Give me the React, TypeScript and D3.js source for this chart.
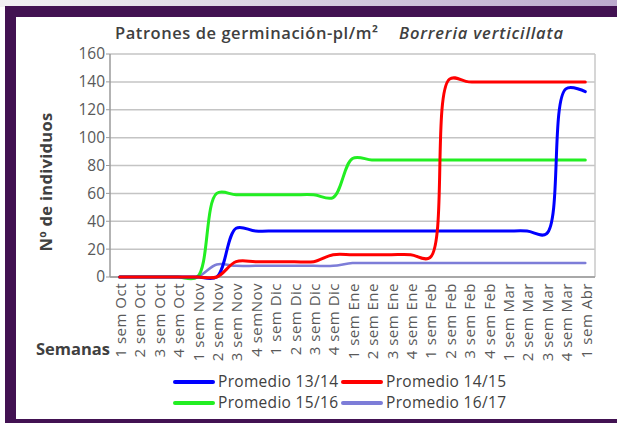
import React from "react";
import * as d3 from "d3";

const categories = [
  "1 sem Oct", "2 sem Oct", "3 sem Oct", "4 sem Oct",
  "1 sem Nov", "2 sem Nov", "3 sem Nov", "4 semNov",
  "1 sem Dic", "2 sem Dic", "3 sem Dic", "4 sem Dic",
  "1 sem Ene", "2 sem Ene", "3 sem Ene", "4 sem Ene",
  "1 sem Feb", "2 sem Feb", "3 sem Feb", "4 sem Feb",
  "1 sem Mar", "2 sem Mar", "3 sem Mar", "4 sem Mar",
  "1 sem Abr",
];

const prom1314 = [0, 0, 0, 0, 0, 0, 35, 33, 33, 33, 33, 33, 33, 33, 33, 33, 33, 33, 33, 33, 33, 33, 31, 135, 133];
const prom1415 = [0, 0, 0, 0, 0, 0, 11, 11, 11, 11, 11, 16, 16, 16, 16, 16, 14, 142, 140, 140, 140, 140, 140, 140, 140];
const prom1516 = [0, 0, 0, 0, 0, 60, 59, 59, 59, 59, 59, 57, 85, 84, 84, 84, 84, 84, 84, 84, 84, 84, 84, 84, 84];
const prom1617 = [0, 0, 0, 0, 0, 9, 8, 8, 8, 8, 8, 8, 10, 10, 10, 10, 10, 10, 10, 10, 10, 10, 10, 10, 10];

const yTicks = [0, 20, 40, 60, 80, 100, 120, 140, 160];

const seriesNames = ["Promedio 13/14", "Promedio 14/15", "Promedio 15/16", "Promedio 16/17"];
const seriesColors = ["#0000ff", "#ff0000", "#22ee22", "#7d7dd8"];

const W = 617;
const H = 423;
const left = 110;
const right = 595;
const top = 54;
const bottom = 277;
const font = "'Open Sans', 'Noto Sans', sans-serif";

export default function App() {
  const x = d3.scaleBand<string>().domain(categories).range([left, right]);
  const y = d3.scaleLinear().domain([0, 160]).range([bottom, top]);
  const cx = (i: number) => (x(categories[i]) as number) + x.bandwidth() / 2;
  const line = d3
    .line<number>()
    .x((_, i) => cx(i))
    .y((d) => y(d))
    .curve(d3.curveCatmullRom.alpha(0.5));

  const data = [prom1314, prom1415, prom1516, prom1617];
  const drawOrder = [3, 2, 0, 1];

  const legendItems = [
    { i: 0, lx: 175, ly: 382 },
    { i: 1, lx: 343, ly: 382 },
    { i: 2, lx: 175, ly: 403 },
    { i: 3, lx: 343, ly: 403 },
  ];

  return (
    <svg
      width={W}
      height={H}
      style={{ position: "absolute", left: 0, top: 0, display: "block" }}
      fontFamily={font}
    >
      <defs>
        <linearGradient id="topgrad" x1="0" x2="1" y1="0" y2="0">
          <stop offset="0" stopColor="#f2f1f3" />
          <stop offset="1" stopColor="#bcaace" />
        </linearGradient>
      </defs>
      <rect x={0} y={0} width={W} height={H} fill="#ffffff" />
      <rect x={0} y={0} width={W} height={7} fill="url(#topgrad)" />
      <rect x={5} y={6} width={W - 5} height={11} fill="#421252" />
      <rect x={5} y={6} width={11} height={H - 6} fill="#421252" />
      <rect x={5} y={419} width={W - 5} height={4} fill="#421252" />

      {/* title */}
      <text x={115} y={39} fontSize={16.5} fontWeight={600} fill="#404040" textLength={263} lengthAdjust="spacing">
        Patrones de germinación-pl/m²
      </text>
      <text x={399} y={39} fontSize={16.5} fontWeight={600} fontStyle="italic" fill="#404040" textLength={164} lengthAdjust="spacing">
        Borreria verticillata
      </text>

      {/* gridlines */}
      {yTicks.map((t) => (
        <line key={t} x1={left} x2={right} y1={y(t)} y2={y(t)} stroke="#c4c4c4" strokeWidth={1.5} />
      ))}
      <line x1={right} x2={right} y1={top} y2={bottom} stroke="#c8c8c8" strokeWidth={1.5} />
      <line x1={left} x2={left} y1={top} y2={bottom} stroke="#9a9a9a" strokeWidth={1.5} />
      <line x1={left} x2={right} y1={bottom} y2={bottom} stroke="#9a9a9a" strokeWidth={1.5} />
      {yTicks.map((t) => (
        <line key={"tk" + t} x1={left - 4} x2={left} y1={y(t)} y2={y(t)} stroke="#9a9a9a" strokeWidth={1} />
      ))}

      {/* y tick labels */}
      {yTicks.map((t) => (
        <text key={"l" + t} x={105} y={y(t)} dy="0.35em" textAnchor="end" fontSize={15.5} fill="#595959">
          {t}
        </text>
      ))}

      {/* y title */}
      <text
        transform={`translate(52,182) rotate(-90)`}
        textAnchor="middle"
        fontSize={16.5}
        fontWeight={700}
        fill="#404040"
        letterSpacing={0.3}
      >
        Nº de individuos
      </text>

      {/* x labels */}
      {categories.map((c, i) => (
        <text
          key={c}
          transform={`translate(${cx(i) + 1},283) rotate(-90)`}
          textAnchor="end"
          dy="0.35em"
          fontSize={15}
          letterSpacing={0.5}
          fill="#595959"
        >
          {c}
        </text>
      ))}

      <text x={36} y={355} fontSize={16.5} fontWeight={700} fill="#404040" textLength={74} lengthAdjust="spacing">
        Semanas
      </text>

      {/* series */}
      {drawOrder.map((i) => (
        <path
          key={seriesNames[i]}
          d={line(data[i]) || ""}
          fill="none"
          stroke={seriesColors[i]}
          strokeWidth={i === 3 ? 2.5 : 3}
          strokeLinejoin="round"
          strokeLinecap="round"
        />
      ))}

      {/* legend */}
      {legendItems.map(({ i, lx, ly }) => (
        <g key={"lg" + i}>
          <line x1={lx} x2={lx + 38} y1={ly} y2={ly} stroke={seriesColors[i]} strokeWidth={4} strokeLinecap="round" />
          <text x={lx + 43} y={ly} dy="0.35em" fontSize={15.5} fill="#404040" textLength={120} lengthAdjust="spacing">
            {seriesNames[i]}
          </text>
        </g>
      ))}
    </svg>
  );
}
